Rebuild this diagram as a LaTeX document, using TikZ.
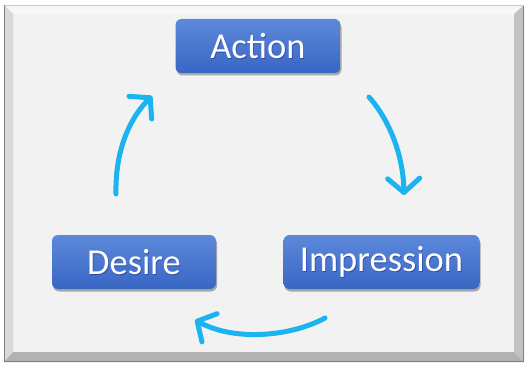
\documentclass[tikz,border=0pt]{standalone}
\usepackage{fontspec}
\setmainfont{Carlito}
\usetikzlibrary{arrows.meta,shadows}
\definecolor{face}{HTML}{F2F2F2}
\definecolor{boxtop}{HTML}{5D89DA}
\definecolor{boxbot}{HTML}{3866C4}
\definecolor{arrowc}{HTML}{1BB4F0}
\definecolor{edgedark}{HTML}{808080}
\tikzset{
  stagebox/.style={rounded corners=6pt, top color=boxtop, bottom color=boxbot,
    draw=none, minimum height=54pt, inner sep=0pt,
    drop shadow={shadow xshift=1pt, shadow yshift=-2.5pt, opacity=0.45, fill=black!70}},
  stagetext/.style={text=white, font=\fontsize{36.5}{40}\selectfont},
  shadowtext/.style={text=black!60!blue, opacity=0.35, font=\fontsize{36.5}{40}\selectfont},
  cyclearrow/.style={draw=arrowc, line width=5pt, line cap=round,
    -{Straight Barb[length=14pt,width=32pt,round]}}
}
\begin{document}
\begin{tikzpicture}[x=1pt,y=-1pt]
\useasboundingbox (0,0) rectangle (527,366);
\fill[white] (0,0) rectangle (527,366);
% bevelled frame
\fill[face] (13,14) rectangle (514,352);
\fill[white!97!black] (4,5) -- (524,5) -- (514,14) -- (13,14) -- cycle;
\fill[white!85!black] (4,5) -- (13,14) -- (13,352) -- (4,362) -- cycle;
\fill[white!76!black] (524,5) -- (524,362) -- (514,352) -- (514,14) -- cycle;
\fill[white!70!black] (4,362) -- (524,362) -- (514,352) -- (13,352) -- cycle;
\draw[edgedark, line width=1.6pt] (4.5,5) -- (4.5,361.5) -- (523.5,361.5) -- (523.5,5);
\draw[white!80!black, line width=0.6pt] (4.5,5) -- (523.5,5);
% boxes
\node[stagebox, minimum width=165pt] (act) at (258,46) {};
\node[stagebox, minimum width=164pt] (des) at (134,262) {};
\node[stagebox, minimum width=196pt] (imp) at (381.5,262) {};
\node[shadowtext] at ([shift={(0.7pt,-1pt)}]act.center) {Action};
\node[stagetext] (actt) at (act.center) {Action};
\node[shadowtext] at ([shift={(0.7pt,-1pt)}]des.center) {Desire};
\node[stagetext] (dest) at (des.center) {Desire};
\node[shadowtext] at ([shift={(0.7pt,-1pt)}]imp.center) {Impression};
\node[stagetext] (impt) at (imp.center) {Impression};
% arrows
\coordinate (lS) at (116,194);
\coordinate (lE) at (152,96);
\coordinate (rS) at (369,97);
\coordinate (rE) at (404,195);
\coordinate (bS) at (325,318);
\coordinate (bE) at (195,320);
\draw[cyclearrow] (lS) .. controls (115,150) and (130,118) .. (lE);
\draw[cyclearrow] (rS) .. controls (386,116) and (403,150) .. (rE);
\draw[cyclearrow] (bS) .. controls (292,336) and (236,342) .. (bE);
\end{tikzpicture}
\end{document}
